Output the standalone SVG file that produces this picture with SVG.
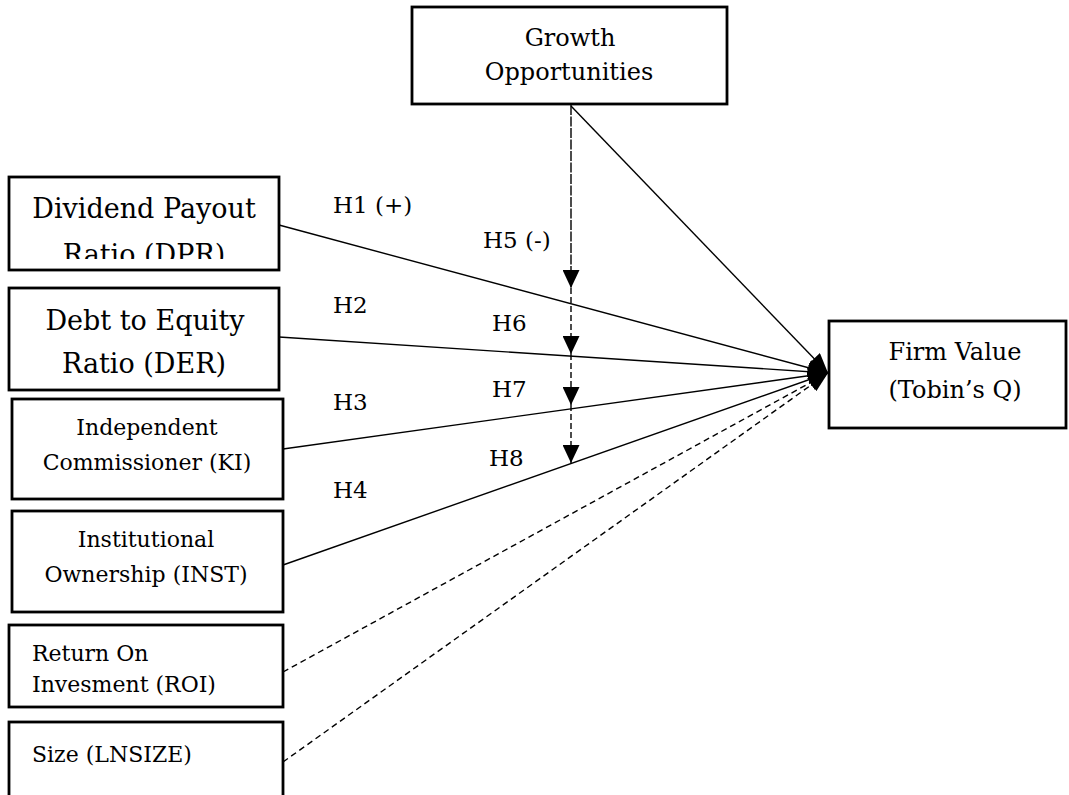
<svg xmlns="http://www.w3.org/2000/svg" width="1069" height="795" viewBox="0 0 1069 795">
  <style>
    .box { fill: #ffffff; stroke: #000000; stroke-width: 2.8; }
    .t { font-family: "DejaVu Serif", "Liberation Serif", serif; fill: #000000; }
    .c { text-anchor: middle; }
    .edge { fill: none; stroke: #000000; stroke-width: 1.4; }
    .dash { stroke-dasharray: 6 4; }
    .vdash { fill: none; stroke: #000000; stroke-width: 1.4; stroke-dasharray: 6 3; }
    .lbl { font-family: "DejaVu Serif", "Liberation Serif", serif; font-size: 23px; fill: #000000; }
  </style>
  <defs>
    <marker id="ah" viewBox="0 0 10 10" refX="10" refY="5" markerUnits="userSpaceOnUse" markerWidth="20" markerHeight="16" orient="auto" preserveAspectRatio="none">
      <path d="M0,0 L10,5 L0,10 z" fill="#000000"/>
    </marker>
    <marker id="av" viewBox="0 0 10 10" refX="10" refY="5" markerUnits="userSpaceOnUse" markerWidth="18" markerHeight="17" orient="auto" preserveAspectRatio="none">
      <path d="M0,0 L10,5 L0,10 z" fill="#000000"/>
    </marker>
    <clipPath id="clipDPR">
      <rect x="9" y="177" width="270" height="82"/>
    </clipPath>
  </defs>
  <rect width="1069" height="795" fill="#ffffff"/>

  <g id="connectors">
    <line class="edge" x1="279" y1="225" x2="828" y2="373" marker-end="url(#ah)"/>
    <line class="edge" x1="279" y1="337" x2="828" y2="373" marker-end="url(#ah)"/>
    <line class="edge" x1="283" y1="449" x2="828" y2="373" marker-end="url(#ah)"/>
    <line class="edge" x1="283" y1="565" x2="828" y2="373" marker-end="url(#ah)"/>
    <line class="edge dash" x1="283" y1="672" x2="828" y2="373" marker-end="url(#ah)"/>
    <line class="edge dash" x1="283" y1="762" x2="828" y2="373" marker-end="url(#ah)"/>
    <line class="edge" x1="571" y1="106" x2="828" y2="373" marker-end="url(#ah)"/>
    <line class="edge" x1="571" y1="105" x2="571" y2="288" stroke-dasharray="10 1.5" marker-end="url(#av)"/>
    <line class="vdash" x1="571" y1="288" x2="571" y2="354" marker-end="url(#av)"/>
    <line class="vdash" x1="571" y1="354" x2="571" y2="405" marker-end="url(#av)"/>
    <line class="vdash" x1="571" y1="405" x2="571" y2="463" marker-end="url(#av)"/>
    <text class="lbl" x="333" y="213">H1 (+)</text>
    <text class="lbl" x="483" y="248">H5 (-)</text>
    <text class="lbl" x="333" y="313">H2</text>
    <text class="lbl" x="492" y="331">H6</text>
    <text class="lbl" x="492" y="397">H7</text>
    <text class="lbl" x="333" y="410">H3</text>
    <text class="lbl" x="489" y="466">H8</text>
    <text class="lbl" x="333" y="498">H4</text>
  </g>

  <g id="node-growth">
    <rect class="box" x="412" y="7" width="315" height="97"/>
    <text class="t c" x="570" y="46" font-size="24">Growth</text>
    <text class="t c" x="569" y="80" font-size="24">Opportunities</text>
  </g>

  <g id="node-dpr">
    <rect class="box" x="9" y="177" width="270" height="93"/>
    <text class="t c" x="144" y="218" font-size="27">Dividend Payout</text>
    <g clip-path="url(#clipDPR)">
      <text class="t c" x="144" y="264" font-size="27">Ratio (DPR)</text>
    </g>
  </g>

  <g id="node-der">
    <rect class="box" x="9" y="288" width="270" height="102"/>
    <text class="t c" x="145" y="330" font-size="27">Debt to Equity</text>
    <text class="t c" x="144" y="373" font-size="27">Ratio (DER)</text>
  </g>

  <g id="node-ki">
    <rect class="box" x="12" y="399" width="271" height="100"/>
    <text class="t c" x="147" y="435" font-size="22">Independent</text>
    <text class="t c" x="147" y="470" font-size="22">Commissioner (KI)</text>
  </g>

  <g id="node-inst">
    <rect class="box" x="12" y="511" width="271" height="101"/>
    <text class="t c" x="146" y="547" font-size="22">Institutional</text>
    <text class="t c" x="146" y="582" font-size="22">Ownership (INST)</text>
  </g>

  <g id="node-roi">
    <rect class="box" x="9" y="625" width="274" height="82"/>
    <text class="t" x="32" y="661" font-size="22">Return On</text>
    <text class="t" x="32" y="692" font-size="22">Invesment (ROI)</text>
  </g>

  <g id="node-size">
    <rect class="box" x="9" y="722" width="274" height="80"/>
    <text class="t" x="32" y="762" font-size="22">Size (LNSIZE)</text>
  </g>

  <g id="node-firm">
    <rect class="box" x="829" y="321" width="237" height="107"/>
    <text class="t c" x="955" y="360" font-size="24">Firm Value</text>
    <text class="t c" x="955" y="398" font-size="24">(Tobin’s Q)</text>
  </g>
</svg>
